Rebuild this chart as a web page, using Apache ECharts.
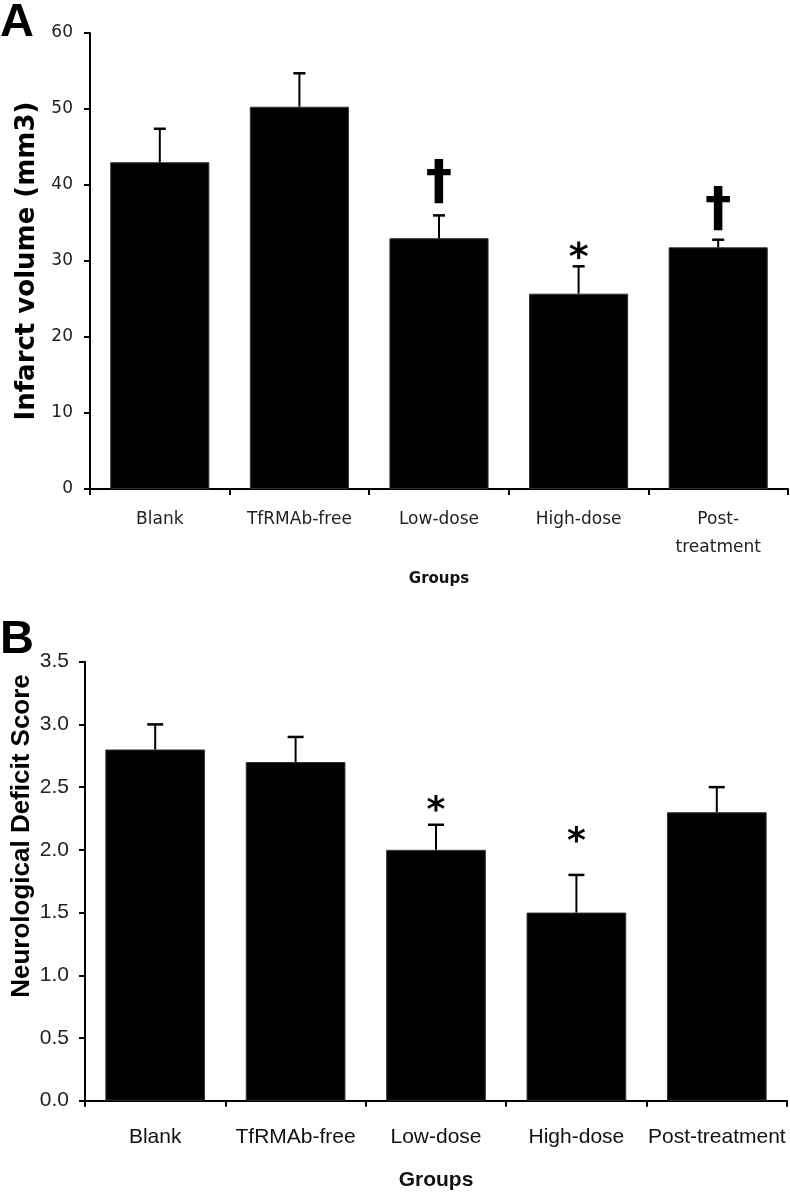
<!DOCTYPE html>
<html>
<head>
<meta charset="utf-8">
<script src="https://cdn.jsdelivr.net/npm/echarts@6/dist/echarts.min.js"></script>
<style>
  html, body { margin: 0; padding: 0; background: #fff; }
  #chart { width: 790px; height: 1199px; }
</style>
</head>
<body>
<div id="chart"></div>
<script>
// ---- data ----
const categoriesA = ['Blank', 'TfRMAb-free', 'Low-dose', 'High-dose', 'Post-\ntreatment'];
const infarctMeans = [43.0, 50.3, 33.0, 25.7, 31.8];
const infarctErrors = [4.4, 4.4, 3.0, 3.6, 1.0];
const infarctMarks = ['', '', '\u2020', '*', '\u2020'];

const categoriesB = ['Blank', 'TfRMAb-free', 'Low-dose', 'High-dose', 'Post-treatment'];
const deficitMeans = [2.8, 2.7, 2.0, 1.5, 2.3];
const deficitErrors = [0.2, 0.2, 0.2, 0.3, 0.2];
const deficitMarks = ['', '', '*', '*', ''];

// ---- styling (not data) ----
const markOffsetA = [0, 0, 31, 7, 28];   // px above the error cap
const markOffsetB = [0, 0, 13, 32, 0];

function errRender(marks, offs, capHalf, markStyles) {
  return function (params, api) {
    const i = api.value(0), m = api.value(1), e = api.value(2);
    const base = api.coord([i, m]);
    const top = api.coord([i, m + e]);
    const children = [
      { type: 'line', shape: { x1: base[0], y1: base[1], x2: top[0], y2: top[1] },
        style: { stroke: '#000', lineWidth: 2 } },
      { type: 'line', shape: { x1: top[0] - capHalf, y1: top[1], x2: top[0] + capHalf, y2: top[1] },
        style: { stroke: '#000', lineWidth: 2.5 } }
    ];
    const mk = marks[i];
    if (mk) {
      const st = markStyles[mk];
      children.push({ type: 'text', x: top[0], y: top[1] - offs[i],
        style: { text: mk, fill: '#000', font: st, textAlign: 'center', textVerticalAlign: 'middle' } });
    }
    return { type: 'group', children };
  };
}

const chart = echarts.init(document.getElementById('chart'), null, { renderer: 'canvas' });

const axisLineStyle = { color: '#000', width: 2 };

const option = {
  animation: false,
  backgroundColor: '#fff',
  grid: [
    { left: 90, right: 2, top: 33, height: 456, outerBoundsMode: 'none', containLabel: false },
    { left: 85, right: 3, top: 661.7, height: 439, outerBoundsMode: 'none', containLabel: false }
  ],
  graphic: [
    { type: 'text', left: 0, top: 0, style: { text: 'A', font: 'bold 47px "Liberation Sans", Arial, sans-serif', fill: '#000' } },
    { type: 'text', left: 0, top: 617, style: { text: 'B', font: 'bold 47px "Liberation Sans", Arial, sans-serif', fill: '#000' } },
    { type: 'text', x: 22, y: 836, rotation: Math.PI / 2,
      style: { text: 'Neurological Deficit Score', font: 'bold 26px "Liberation Sans", Arial, sans-serif',
        fill: '#000', textAlign: 'center', textVerticalAlign: 'middle' } }
  ],
  xAxis: [
    {
      type: 'category', gridIndex: 0, data: categoriesA,
      axisLine: { show: true, lineStyle: axisLineStyle },
      axisTick: { show: true, length: 6, lineStyle: { color: '#000', width: 2 } },
      axisLabel: { color: '#222', fontFamily: '"DejaVu Sans", sans-serif', fontSize: 17, lineHeight: 28, margin: 17, interval: 0 },
      name: 'Groups', nameLocation: 'middle', nameGap: 83,
      nameTextStyle: { color: '#111', fontFamily: '"DejaVu Sans", sans-serif', fontWeight: 'bold', fontSize: 15 }
    },
    {
      type: 'category', gridIndex: 1, data: categoriesB,
      axisLine: { show: true, lineStyle: axisLineStyle },
      axisTick: { show: true, length: 6, lineStyle: { color: '#000', width: 2 } },
      axisLabel: { color: '#111', fontFamily: '"Liberation Sans", Arial, sans-serif', fontSize: 21, lineHeight: 24, margin: 25, interval: 0 },
      name: 'Groups', nameLocation: 'middle', nameGap: 69,
      nameTextStyle: { color: '#111', fontFamily: '"Liberation Sans", Arial, sans-serif', fontWeight: 'bold', fontSize: 21 }
    }
  ],
  yAxis: [
    {
      type: 'value', gridIndex: 0, min: 0, max: 60, interval: 10,
      splitLine: { show: false },
      axisLine: { show: true, lineStyle: axisLineStyle },
      axisTick: { show: true, length: 6, lineStyle: { color: '#000', width: 2 } },
      axisLabel: { color: '#222', fontFamily: '"DejaVu Sans", sans-serif', fontSize: 17, margin: 17 },
      name: 'Infarct volume (mm3)', nameLocation: 'middle', nameGap: 46, nameRotate: 90,
      nameTextStyle: { color: '#000', fontFamily: '"DejaVu Sans", sans-serif', fontWeight: 'bold', fontSize: 26 }
    },
    {
      type: 'value', gridIndex: 1, min: 0, max: 3.5, interval: 0.5,
      splitLine: { show: false },
      axisLine: { show: true, lineStyle: axisLineStyle },
      axisTick: { show: true, length: 6, lineStyle: { color: '#000', width: 2 } },
      axisLabel: { color: '#222', fontFamily: '"Liberation Sans", Arial, sans-serif', fontSize: 21, margin: 16,
        formatter: v => v.toFixed(1) }
    }
  ],
  series: [
    {
      type: 'bar', xAxisIndex: 0, yAxisIndex: 0, data: infarctMeans,
      barCategoryGap: '29%', itemStyle: { color: '#000', borderColor: '#333', borderWidth: 1 }
    },
    {
      type: 'custom', xAxisIndex: 0, yAxisIndex: 0,
      data: infarctMeans.map((m, i) => [i, m, infarctErrors[i]]),
      encode: { x: 0, y: 1 },
      renderItem: errRender(infarctMarks, markOffsetA, 6,
        { '\u2020': 'bold 53px "DejaVu Sans", sans-serif', '*': 'bold 38px "DejaVu Sans", sans-serif' }),
      z: 5
    },
    {
      type: 'bar', xAxisIndex: 1, yAxisIndex: 1, data: deficitMeans,
      barCategoryGap: '29%', itemStyle: { color: '#000', borderColor: '#333', borderWidth: 1 }
    },
    {
      type: 'custom', xAxisIndex: 1, yAxisIndex: 1,
      data: deficitMeans.map((m, i) => [i, m, deficitErrors[i]]),
      encode: { x: 0, y: 1 },
      renderItem: errRender(deficitMarks, markOffsetB, 8,
        { '*': 'bold 36px "DejaVu Sans", sans-serif' }),
      z: 5
    }
  ]
};
chart.setOption(option);
</script>
</body>
</html>
